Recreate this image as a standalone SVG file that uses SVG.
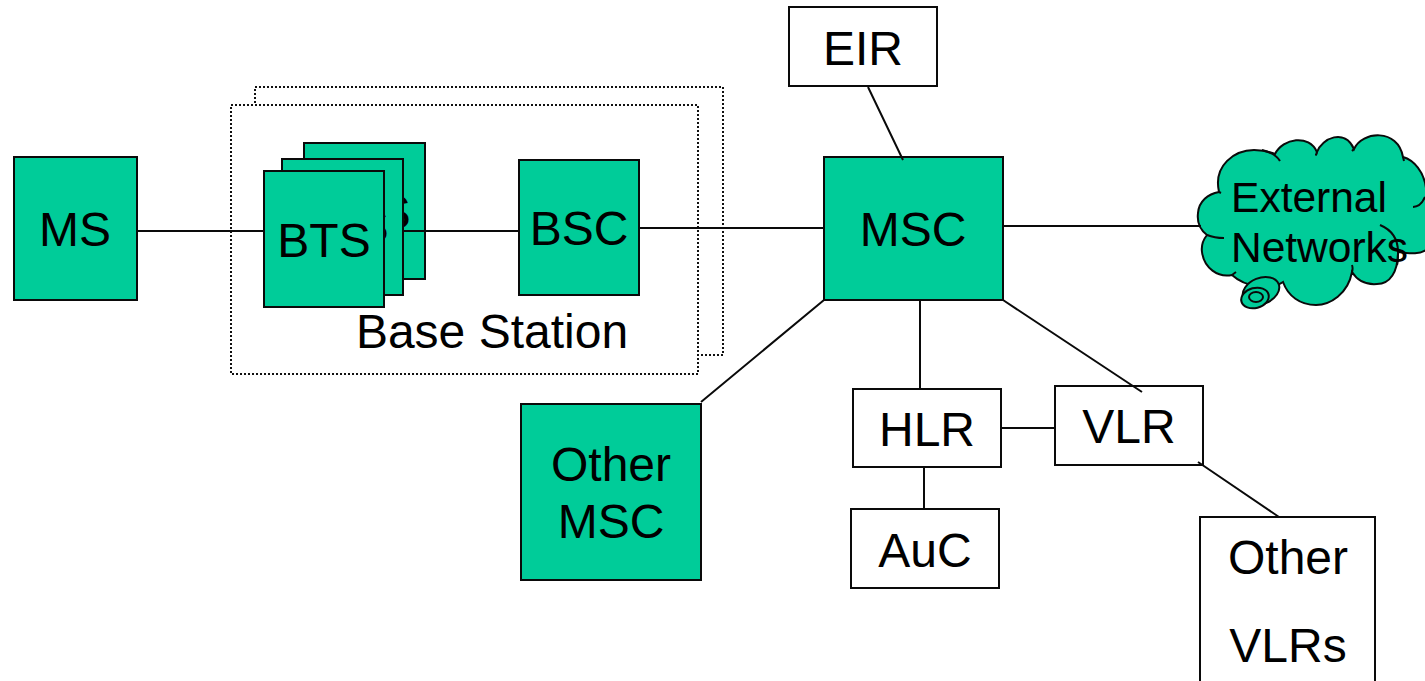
<svg xmlns="http://www.w3.org/2000/svg" width="1425" height="681" viewBox="0 0 1425 681">
<style>
.g{fill:#00CC99;stroke:#0a0a0a;stroke-width:2}
.w{fill:#fff;stroke:#0a0a0a;stroke-width:2}
.d{fill:none;stroke:#111;stroke-width:2;stroke-dasharray:2 2}
.l{fill:none;stroke:#0a0a0a;stroke-width:2}
.c{fill:none;stroke:#0a0a0a;stroke-width:2}
text{font-family:"Liberation Sans",Arial,sans-serif;font-size:48px;fill:#000;text-anchor:middle}
</style>
<rect width="1425" height="681" fill="#fff"/>
<g id="base-station-back"><rect class="d" x="255" y="87" width="468" height="268"/></g>
<g id="base-station"><rect x="231" y="105" width="467" height="269" fill="#fff"/><rect class="d" x="231" y="105" width="467" height="269"/><text x="492" y="348">Base Station</text></g>
<g id="bts3"><rect class="g" x="304" y="143" width="121" height="136"/><text x="364" y="229">BTS</text></g>
<g id="bts2"><rect class="g" x="282" y="159" width="121" height="136"/><text x="342" y="243">BTS</text></g>
<g id="bts1"><rect class="g" x="264" y="171" width="120" height="136"/><text x="324" y="257">BTS</text></g>
<g id="ms"><rect class="g" x="14" y="157" width="123" height="143"/><text x="75" y="246">MS</text></g>
<g id="bsc"><rect class="g" x="519" y="160" width="120" height="135"/><text x="579" y="245">BSC</text></g>
<g id="msc"><rect class="g" x="824" y="157" width="179" height="143"/><text x="913" y="246">MSC</text></g>
<g id="eir"><rect class="w" x="789" y="7" width="148" height="79"/><text x="863" y="65">EIR</text></g>
<g id="other-msc"><rect class="g" x="521" y="404" width="180" height="176"/><text x="611" y="481">Other</text><text x="611" y="538">MSC</text></g>
<g id="hlr"><rect class="w" x="853" y="389" width="148" height="78"/><text x="927" y="446">HLR</text></g>
<g id="vlr"><rect class="w" x="1055" y="386" width="148" height="79"/><text x="1129" y="443">VLR</text></g>
<g id="auc"><rect class="w" x="851" y="509" width="148" height="79"/><text x="925" y="567">AuC</text></g>
<g id="other-vlrs"><rect class="w" x="1200" y="517" width="175" height="170"/><text x="1288" y="574">Other</text><text x="1288" y="662">VLRs</text></g>
<g id="external-networks">
<path fill="#00CC99" stroke="#0a0a0a" stroke-width="2" d="M1219 192C1213 165 1235 150 1254 150C1263 150 1270 152 1275 154C1283 138 1309 134 1317 152C1322 138 1345 128 1354 149C1362 131 1398 128 1403 157C1414 160 1424 172 1426 188V250C1420 254 1412 254 1398 252C1398 272 1390 284 1377 284C1365 285 1357 280 1352 272C1348 294 1330 305 1316 305C1300 305 1288 296 1283 282C1272 290 1246 288 1232 275C1218 278 1204 268 1202 252C1201 245 1203 240 1207 235C1199 229 1197 221 1198 213C1199 201 1208 194 1219 192Z"/>
<path class="c" d="M1262 150C1270 152 1277 156 1280 161M1317 152C1316 154 1316 156 1316 154M1354 149L1352 151M1403 157L1404 161M1425 197C1422 204 1418 207 1413 207M1380 225C1392 230 1398 240 1398 252M1398 252C1398 258 1398 262 1397 265M1352 272C1353 269 1353 268 1352 265M1207 235C1212 237 1216 238 1224 238M1232 275L1236 272M1219 192L1221 193"/>
<g fill="#00CC99" stroke="#0a0a0a" stroke-width="2"><ellipse cx="1261" cy="291" rx="19" ry="13" transform="rotate(-22 1261 291)"/><ellipse cx="1255" cy="298" rx="14" ry="10" transform="rotate(-15 1255 298)"/><ellipse cx="1256" cy="297" rx="7" ry="5"/></g>
<text x="1309" y="212" style="font-size:42.5px">External</text><text x="1319.500" y="262" style="font-size:42.5px">Networks</text>
</g>
<g id="connectors">
<path class="l" d="M137 231H264M403 231H519M639 228H824M1003 226H1201M868 87L903 160M824 300L701 402M920 300V389M1003 300L1142 392M1001 428H1055M924 467V509M1198 462L1279 517"/>
</g>
</svg>
